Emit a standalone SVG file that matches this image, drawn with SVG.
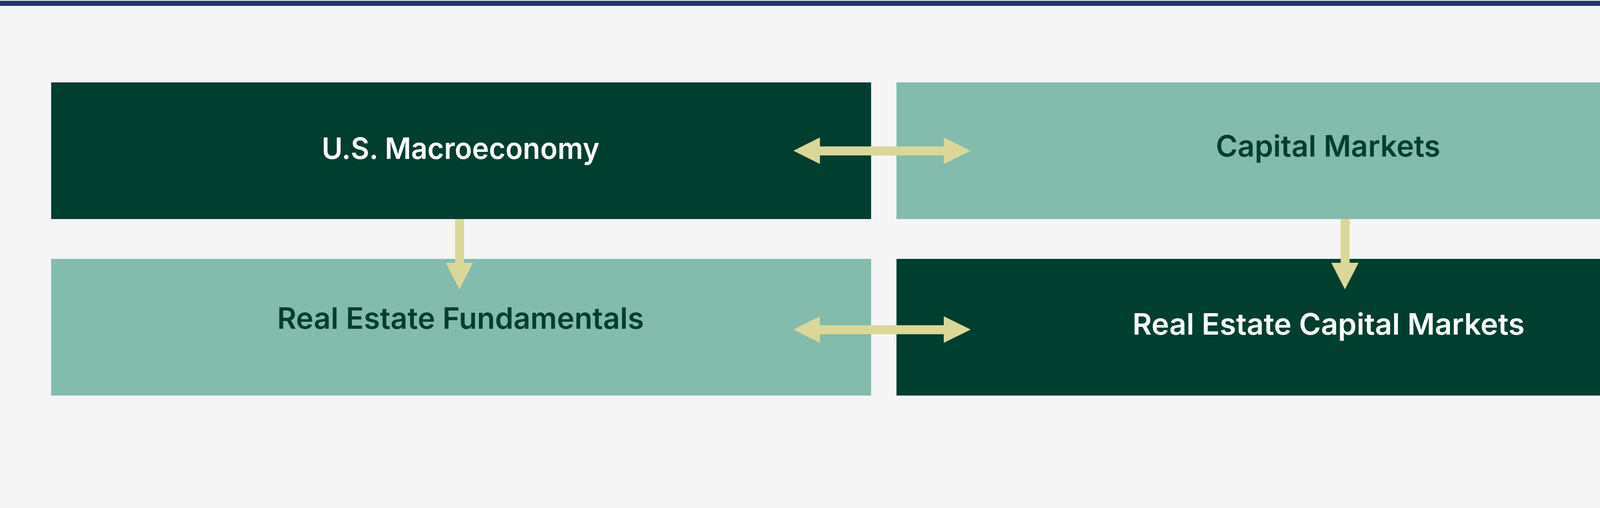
<svg xmlns="http://www.w3.org/2000/svg" width="4592" height="1301" viewBox="0 0 4592 1301">
<style>
.dark{fill:#003e2f}.light{fill:#83bbad}
.t{font-family:Inter,"Noto Sans",sans-serif;font-weight:600;font-size:76px;text-anchor:middle}
.tw{fill:#ffffff}.td{fill:#003e2f}
.arr{fill:#dad799}
</style>
<rect width="4592" height="1301" fill="#f4f5f4"/>
<rect x="0" y="2" width="4592" height="13" fill="#1f3769"/>
<g id="macro"><rect class="dark" x="131" y="211" width="2099" height="350"/><text class="t tw" x="1179" y="407" textLength="711" lengthAdjust="spacingAndGlyphs">U.S. Macroeconomy</text></g>
<g id="capital"><rect class="light" x="2295" y="211" width="2106" height="350"/><text class="t td" x="3400" y="401" textLength="575" lengthAdjust="spacingAndGlyphs">Capital Markets</text></g>
<g id="fund"><rect class="light" x="131" y="663" width="2099" height="350"/><text class="t td" x="1179" y="842" textLength="939" lengthAdjust="spacingAndGlyphs">Real Estate Fundamentals</text></g>
<g id="recap"><rect class="dark" x="2295" y="663" width="2106" height="350"/><text class="t tw" x="3401" y="857" textLength="1004" lengthAdjust="spacingAndGlyphs">Real Estate Capital Markets</text></g>
<g id="connectors" class="arr">
<polygon points="2031,386 2099,352 2099,375 2416,375 2416,352 2485,386 2416,420 2416,398 2099,398 2099,420"/>
<polygon points="2031,844 2099,810 2099,833 2416,833 2416,810 2485,844 2416,878 2416,856 2099,856 2099,878"/>
<polygon points="1165,561 1188,561 1188,673 1211,673 1176,741 1141,673 1165,673"/>
<polygon points="3432,561 3455,561 3455,673 3478,673 3443,741 3408,673 3432,673"/>
</g>
</svg>
